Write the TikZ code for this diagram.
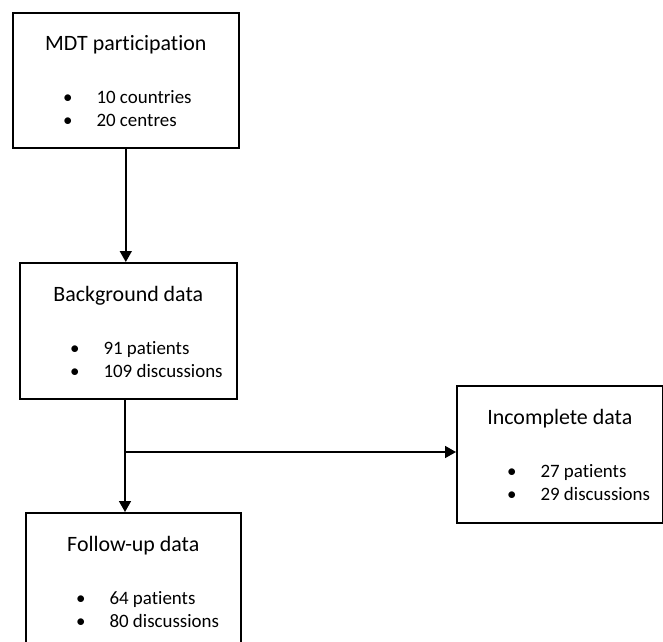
\documentclass[tikz,border=0pt]{standalone}
\usepackage{fontspec}
\setmainfont{Carlito}[Ligatures=NoCommon]
\usetikzlibrary{arrows.meta}

\tikzset{
  box/.style={draw, line width=1.6bp, rectangle, anchor=north west, inner sep=0pt},
  boxtitle/.style={font=\fontsize{22}{26}\selectfont, anchor=base, yshift=-39bp},
  boxitem/.style={font=\fontsize{19}{23}\selectfont, anchor=base west, xshift=47.5bp},
  link/.style={line width=1.6bp, -{Triangle[length=11bp,width=12bp]}}
}
\newcommand{\bulletline}[1]{\makebox[33.5bp][l]{•}#1}

\begin{document}
\begin{tikzpicture}[x=1bp, y=-1bp]
    \useasboundingbox (0,0) rectangle (663,642);

    % boxes
    \node[box, minimum width=226bp, minimum height=135bp] (mdt) at (12,12) {};
    \node[box, minimum width=217bp, minimum height=136bp] (bg) at (19,262) {};
    \node[box, minimum width=206bp, minimum height=137bp] (inc) at (456,385) {};
    \node[box, minimum width=215bp, minimum height=136bp] (fu) at (25,512) {};

    % titles
    \node[boxtitle] (mdttitle) at (mdt.north) {MDT participation};
    \node[boxtitle] (bgtitle) at (bg.north) {Background data};
    \node[boxtitle] (inctitle) at (inc.north) {Incomplete data};
    \node[boxtitle] (futitle) at (fu.north) {Follow-up data};

    % bullet lines
    \node[boxitem, yshift=-92bp] (mdtA) at (mdt.north west) {\bulletline{10 countries}};
    \node[boxitem, yshift=-115bp] (mdtB) at (mdt.north west) {\bulletline{20 centres}};
    \node[boxitem, yshift=-92bp] (bgA) at (bg.north west) {\bulletline{91 patients}};
    \node[boxitem, yshift=-115bp] (bgB) at (bg.north west) {\bulletline{109 discussions}};
    \node[boxitem, yshift=-92bp] (incA) at (inc.north west) {\bulletline{27 patients}};
    \node[boxitem, yshift=-115bp] (incB) at (inc.north west) {\bulletline{29 discussions}};
    \node[boxitem, yshift=-92bp] (fuA) at (fu.north west) {\bulletline{64 patients}};
    \node[boxitem, yshift=-115bp] (fuB) at (fu.north west) {\bulletline{80 discussions}};

    % connectors
    \coordinate (split) at (125,452);
    \draw[link] (mdt.south) -- (mdt.south |- bg.north);
    \draw[link] (split |- bg.south) -- (split |- fu.north);
    \draw[link] (split) -- (split -| inc.west);
\end{tikzpicture}
\end{document}
